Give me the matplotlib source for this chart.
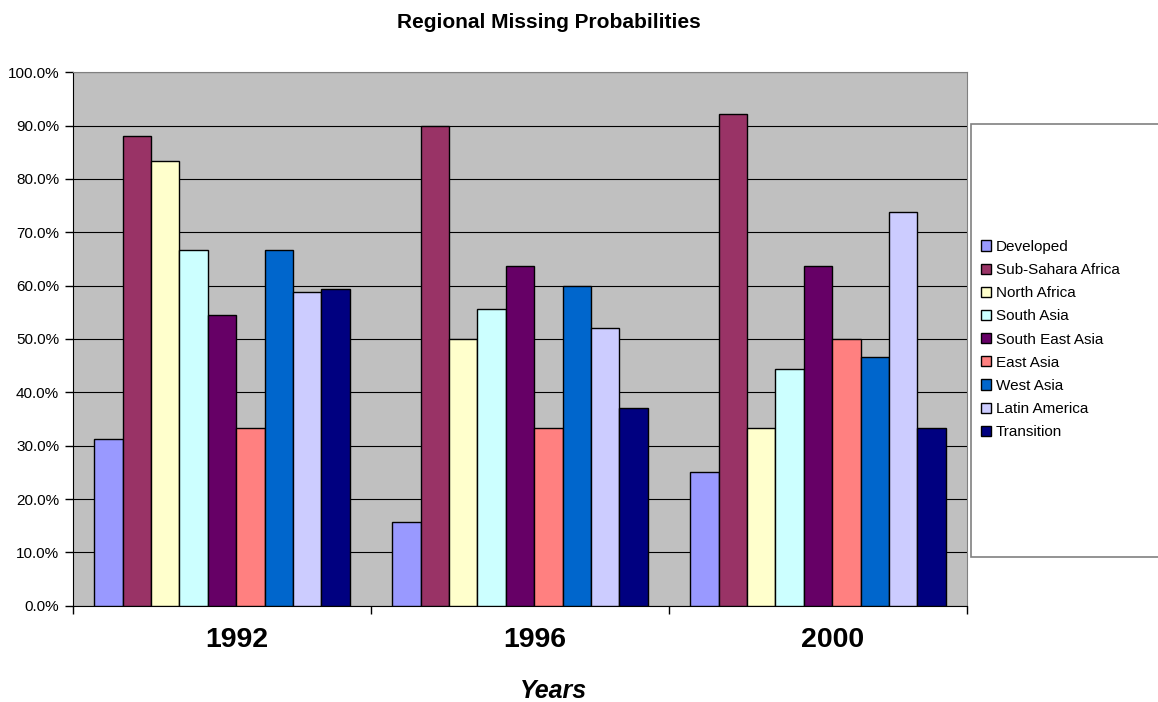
import matplotlib
matplotlib.use("Agg")
import matplotlib.pyplot as plt
import numpy as np
from matplotlib.patches import Rectangle
from matplotlib.transforms import ScaledTranslation

plt.rcParams['font.family'] = ['Liberation Sans', 'DejaVu Sans']

years = ["1992", "1996", "2000"]
regions = ["Developed", "Sub-Sahara Africa", "North Africa", "South Asia",
           "South East Asia", "East Asia", "West Asia", "Latin America", "Transition"]
colors = ["#9999FF", "#993366", "#FFFFCC", "#CCFFFF", "#660066",
          "#FF8080", "#0066CC", "#CCCCFF", "#000080"]

# missing probability (%) per region, for 1992 / 1996 / 2000
developed = [31.3, 15.7, 25.0]
sub_sahara = [88.0, 90.0, 92.1]
north_africa = [83.3, 50.0, 33.3]
south_asia = [66.7, 55.6, 44.4]
south_east_asia = [54.5, 63.6, 63.6]
east_asia = [33.3, 33.3, 50.0]
west_asia = [66.7, 60.0, 46.7]
latin_america = [58.8, 52.1, 73.9]
transition = [59.3, 37.1, 33.3]

series = [developed, sub_sahara, north_africa, south_asia, south_east_asia,
          east_asia, west_asia, latin_america, transition]

W, H = 1158, 702
fig = plt.figure(figsize=(W / 100, H / 100), dpi=100)
ax = fig.add_axes([73 / W, 1 - 605.7 / H, (967 - 73) / W, (605.7 - 72.3) / H])

n = len(series)
bw = 1.0 / (n + 1.5)
x = np.arange(len(years))
for i, (vals, c, name) in enumerate(zip(series, colors, regions)):
    offs = (i - (n - 1) / 2) * bw
    ax.bar(x + offs, np.array(vals) / 100, width=bw, color=c, edgecolor="black",
           linewidth=1.0, label=name, zorder=3)

ax.set_facecolor("#C0C0C0")
ax.set_xlim(-0.5, 2.5)
ax.set_ylim(0, 1.0)
ax.set_yticks(np.arange(0, 1.01, 0.1))
ax.set_yticklabels([f"{v * 100:.1f}%" for v in np.arange(0, 1.01, 0.1)], fontsize=11)
ax.yaxis.grid(True, color="black", linewidth=0.8, zorder=0)
ax.set_axisbelow(True)
ax.tick_params(axis="y", direction="out", length=6, width=1, pad=4)

ax.set_xticks([-0.5, 0.5, 1.5, 2.5])
ax.set_xticklabels([])
ax.tick_params(axis="x", which="major", direction="out", length=6, width=1)
ax.set_xticks(x, minor=True)
ax.set_xticklabels(years, minor=True, fontsize=20.5, fontweight="bold")
ax.tick_params(axis="x", which="minor", length=0, pad=15)
for lab in ax.xaxis.get_minorticklabels():
    lab.set_transform(lab.get_transform() + ScaledTranslation(0.15, 0, fig.dpi_scale_trans))

for s in ["top", "right"]:
    ax.spines[s].set_color("#808080")
for s in ["left", "bottom"]:
    ax.spines[s].set_color("black")

fig.text(549 / W, 1 - 28.5 / H, "Regional Missing Probabilities", ha="center",
         va="baseline", fontsize=15, fontweight="bold")
fig.text(553 / W, 1 - 698 / H, "Years", ha="center", va="baseline",
         fontsize=18, fontweight="bold", fontstyle="italic")

# legend frame
fig.patches.append(Rectangle((971 / W, 1 - 557 / H), 200 / W, (557 - 124) / H,
                             transform=fig.transFigure, facecolor="white",
                             edgecolor="#808080", linewidth=1.2, zorder=1))
leg = fig.legend(loc="center left", bbox_to_anchor=(981 / W, 1 - 339.5 / H),
                 frameon=False, fontsize=11, handlelength=0.65, handleheight=0.65,
                 handletextpad=0.3, labelspacing=0.6, borderpad=0, borderaxespad=0)
leg.set_zorder(2)

fig.savefig("out.png", dpi=100)
